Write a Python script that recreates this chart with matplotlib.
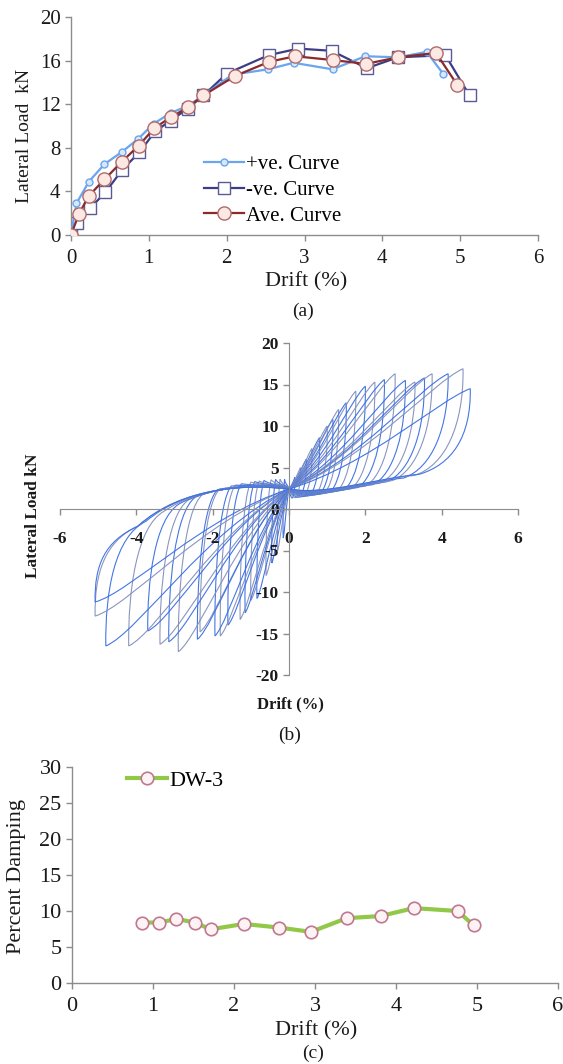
import numpy as np
import matplotlib.pyplot as plt
from matplotlib.path import Path
from matplotlib.patches import PathPatch

plt.rcParams['font.family'] = ['Liberation Serif', 'DejaVu Serif']
plt.rcParams['axes.unicode_minus'] = False

# (a) envelope curves
pos_x = [0, 0.07, 0.23, 0.43, 0.65, 0.86, 1.06, 1.28, 1.49, 1.7, 2.07, 2.53, 2.86, 3.36, 3.78, 4.2, 4.57, 4.78]
pos_y = [0, 2.9, 4.9, 6.5, 7.6, 8.8, 10.2, 11.2, 11.8, 12.8, 14.7, 15.2, 15.8, 15.2, 16.4, 16.3, 16.8, 14.8]

neg_x = [0, 0.08, 0.25, 0.44, 0.66, 0.88, 1.08, 1.28, 1.5, 1.7, 2.0, 2.54, 2.92, 3.35, 3.8, 4.2, 4.81, 5.12]
neg_y = [0, 1.1, 2.5, 3.9, 6.0, 7.6, 9.5, 10.5, 11.6, 12.8, 14.8, 16.5, 17.1, 16.9, 15.3, 16.3, 16.5, 12.8]

ave_x = [0, 0.1, 0.23, 0.43, 0.65, 0.87, 1.07, 1.28, 1.5, 1.7, 2.11, 2.55, 2.88, 3.36, 3.79, 4.2, 4.69, 4.96]
ave_y = [0, 1.9, 3.6, 5.1, 6.7, 8.2, 9.8, 10.8, 11.7, 12.8, 14.6, 15.9, 16.4, 16.05, 15.7, 16.3, 16.7, 13.8]

# (b) cyclic test: peak drift / peak load of each cycle
cyc_pos_drift = [0.15, 0.3, 0.45, 0.6, 0.8, 1.0, 1.15, 1.3, 1.5, 1.75, 2.0, 2.25, 2.5, 2.78, 3.05, 3.3, 3.55, 3.75, 4.17, 4.56, 4.75]
cyc_pos_load = [3.8, 5.0, 6.0, 7.3, 8.6, 10.0, 10.8, 12.0, 12.8, 14.2, 14.8, 15.3, 15.6, 16.3, 15.5, 15.3, 15.8, 16.3, 16.3, 16.9, 14.5]
cyc_neg_drift = [-0.15, -0.3, -0.45, -0.6, -0.84, -1.0, -1.15, -1.28, -1.6, -1.8, -1.94, -2.33, -2.4, -2.9, -3.15, -3.38, -3.7, -4.2, -4.8, -5.08, -5.08]
cyc_neg_load = [-3.5, -5.0, -6.5, -8.0, -10.8, -11.0, -12.5, -13.3, -14.0, -15.3, -15.3, -14.8, -15.7, -17.2, -16.0, -16.3, -14.7, -16.5, -16.5, -12.9, -11.2]
pinch_load = 2.4

# (c) equivalent damping
damp_x = [0.86, 1.08, 1.29, 1.52, 1.71, 2.12, 2.56, 2.95, 3.39, 3.81, 4.22, 4.76, 4.96]
damp_y = [8.4, 8.4, 8.9, 8.4, 7.45, 8.2, 7.7, 7.1, 9.0, 9.3, 10.4, 10.0, 8.0]

W, H = 563, 1064
fig = plt.figure(figsize=(W / 100, H / 100), dpi=100)

def fx(px):
    return px / W

def fy(py):
    return 1 - py / H

axis_grey = '#8c8c8c'
txt = '#1a1a1a'

def style_axes(ax, size):
    for s in ['top', 'right']:
        ax.spines[s].set_visible(False)
    for s in ['left', 'bottom']:
        ax.spines[s].set_color(axis_grey)
        ax.spines[s].set_linewidth(1.0)
    ax.tick_params(direction='out', length=4, width=1, color=axis_grey,
                   labelsize=size, labelcolor=txt)
    ax.tick_params(axis='x', pad=6)

# ---- (a) ----
ax1 = fig.add_axes([fx(71), fy(235), fx(538 - 71), (235 - 17) / H])
ax1.plot(pos_x, pos_y, color='#6aa5ee', lw=1.6, marker='o', ms=5,
         mfc='#d6e8fc', mec='#6aa5ee', label='+ve. Curve', zorder=3)
ax1.plot(neg_x, neg_y, color='#3d3d85', lw=1.6, marker='s', ms=8.5,
         mfc='white', mec='#5a5a94', label='-ve. Curve', zorder=2)
ax1.plot(ave_x, ave_y, color='#8b2a2a', lw=1.6, marker='o', ms=9.5,
         mfc='#fde9e4', mec='#b06a6a', label='Ave. Curve', zorder=4)
ax1.set_xlim(0, 6)
ax1.set_ylim(0, 20)
ax1.set_xticks(range(0, 7))
ax1.set_yticks(range(0, 21, 4))
style_axes(ax1, 15)
ax1.legend(loc='upper left', bbox_to_anchor=(fx(194), fy(144)),
           bbox_transform=fig.transFigure, frameon=False, fontsize=15,
           handlelength=1.9, handletextpad=0.1, labelspacing=0.3, borderpad=0)
fig.text(fx(25), fy(136), 'Lateral Load  kN', rotation=90, ha='center',
         va='center', fontsize=14, color=txt)
fig.text(fx(306), fy(282), 'Drift (%)', ha='center', va='center', fontsize=16, color=txt)
fig.text(fx(303), fy(311), '(a)', ha='center', va='center', fontsize=14, color=txt)

# ---- (b) ----
ax2 = fig.add_axes([fx(60), fy(675), fx(518 - 60), (675 - 343) / H])
loop_cols = ['#3a6fe2', '#8390bd']
for i in range(len(cyc_pos_drift)):
    d, F = cyc_pos_drift[i], cyc_pos_load[i]
    dn, Fn = cyc_neg_drift[i], cyc_neg_load[i]
    p = pinch_load
    lo = 1.6 + 0.35 * d + 0.05 * d * d          # lower return path (+ side)
    up = p + 0.4 - 0.22 * dn * dn                # upper return path (- side)
    verts = [(0, p),
             # push: reload towards peak, drop after peak, return low
             (0.45 * d, p + 0.25 * (F - p)), (0.82 * d, 0.9 * F), (d, F),
             (d + 0.02, 0.6 * F), (0.9 * d, lo + 1.0), (0.72 * d, lo - 0.2),
             (0.5 * d, lo - 0.6), (0.2 * d, p - 0.8), (0, p),
             # pull: mirrored
             (0.45 * dn, p + 0.25 * (Fn - p)), (0.82 * dn, 0.9 * Fn), (dn, Fn),
             (dn - 0.02, 0.6 * Fn), (0.95 * dn, up - 1.0), (0.78 * dn, up + 0.8),
             (0.55 * dn, p + 0.4), (0.2 * dn, p + 0.6), (0, p)]
    codes = [Path.MOVETO] + [Path.CURVE4] * 18
    ax2.add_patch(PathPatch(Path(verts, codes), fill=False,
                            edgecolor=loop_cols[i % 2], lw=0.8, alpha=0.95))
ax2.set_xlim(-6, 6)
ax2.set_ylim(-20, 20)
ax2.set_xticks(range(-6, 7, 2))
ax2.set_yticks(range(-20, 21, 5))
for s in ['top', 'right']:
    ax2.spines[s].set_visible(False)
for s in ['left', 'bottom']:
    ax2.spines[s].set_position('zero')
    ax2.spines[s].set_color(axis_grey)
ax2.tick_params(direction='out', length=4, width=1, color=axis_grey,
                labelsize=12.5, labelcolor=txt)
ax2.tick_params(axis='x', pad=12)
for lab in ax2.get_xticklabels() + ax2.get_yticklabels():
    lab.set_fontweight('bold')
fig.text(fx(33), fy(516), 'Lateral Load kN', rotation=90, ha='center',
         va='center', fontsize=12.5, fontweight='bold', color=txt)
fig.text(fx(290), fy(704), 'Drift (%)', ha='center', va='center',
         fontsize=12, fontweight='bold', color=txt)
fig.text(fx(290), fy(735), '(b)', ha='center', va='center', fontsize=14, color=txt)

# ---- (c) ----
ax3 = fig.add_axes([fx(72), fy(983), fx(558 - 72), (983 - 767) / H])
ax3.plot(damp_x, damp_y, color='#92c848', lw=3, marker='o', ms=9,
         mfc='#fdf2f4', mec='#c07890', mew=1.2, label='DW-3')
ax3.set_xlim(0, 6)
ax3.set_ylim(0, 30)
ax3.set_xticks(range(0, 7))
ax3.set_yticks(range(0, 31, 5))
style_axes(ax3, 16)
ax3.legend(loc='upper left', bbox_to_anchor=(fx(116), fy(759)),
           bbox_transform=fig.transFigure, frameon=False, fontsize=16,
           handlelength=1.8, handletextpad=0.1, borderpad=0)
fig.text(fx(17), fy(876), 'Percent Damping', rotation=90, ha='center',
         va='center', fontsize=16, color=txt)
fig.text(fx(316), fy(1031), 'Drift (%)', ha='center', va='center', fontsize=16, color=txt)
fig.text(fx(313), fy(1053), '(c)', ha='center', va='center', fontsize=14, color=txt)

fig.savefig('out.png', dpi=100)
